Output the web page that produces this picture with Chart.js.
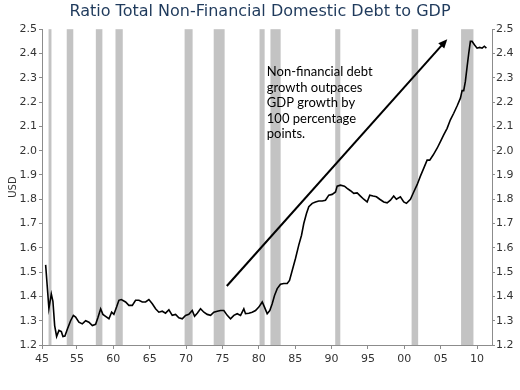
<!DOCTYPE html>
<html>
<head>
<meta charset="utf-8">
<script src="https://cdn.jsdelivr.net/npm/chart.js@4.4.1/dist/chart.umd.min.js"></script>
<style>
  html, body { margin: 0; padding: 0; background: #fff; }
  #wrap { width: 520px; height: 390px; }
</style>
</head>
<body>
<div id="wrap"><canvas id="debtChart" width="520" height="390"></canvas></div>
<script>
// Quarter positions (decimal years) and ratio values
var years = [1950.70, 1951.15, 1951.48, 1951.70, 1951.94, 1952.21, 1952.53, 1952.86, 1953.08, 1953.35,
  1953.68, 1954.13, 1954.51, 1954.82, 1955.27, 1955.74, 1956.20, 1956.65, 1957.12, 1957.57,
  1957.88, 1958.26, 1958.57, 1958.94, 1959.40, 1959.77, 1960.08, 1960.45, 1960.77, 1961.10,
  1961.69, 1962.14, 1962.61, 1963.06, 1963.52, 1963.98, 1964.44, 1964.89, 1965.36, 1965.81,
  1966.26, 1966.73, 1967.18, 1967.64, 1968.10, 1968.56, 1969.01, 1969.48, 1969.93, 1970.38,
  1970.85, 1971.17, 1971.54, 1971.99, 1972.45, 1972.91, 1973.37, 1973.82, 1974.29, 1974.74,
  1975.19, 1975.66, 1976.11, 1976.57, 1977.03, 1977.49, 1977.94, 1978.17, 1978.63, 1979.09,
  1979.55, 1980.00, 1980.47, 1980.78, 1981.15, 1981.51, 1981.84, 1982.16, 1982.53, 1982.98,
  1983.43, 1983.90, 1984.22, 1984.59, 1985.04, 1985.49, 1985.87, 1986.18, 1986.55, 1986.87,
  1987.34, 1987.79, 1988.24, 1988.71, 1989.16, 1989.62, 1990.08, 1990.54, 1990.77, 1991.22,
  1991.77, 1992.14, 1992.60, 1993.05, 1993.52, 1993.97, 1994.42, 1994.89, 1995.25, 1995.71,
  1996.17, 1996.62, 1997.17, 1997.64, 1998.09, 1998.54, 1998.91, 1999.46, 1999.92, 2000.29,
  2000.84, 2001.29, 2001.76, 2002.21, 2002.66, 2003.13, 2003.49, 2003.96, 2004.51, 2004.96,
  2005.41, 2005.88, 2006.33, 2006.79, 2007.25, 2007.71, 2007.94, 2008.16, 2008.39, 2008.63,
  2008.85, 2009.08, 2009.31, 2009.63, 2010.00, 2010.36, 2010.69, 2011.00, 2011.28];

var debtRatio = [1.53, 1.35, 1.41, 1.38, 1.28, 1.235, 1.26, 1.255, 1.235, 1.237,
  1.265, 1.30, 1.322, 1.315, 1.294, 1.287, 1.30, 1.294, 1.28, 1.285,
  1.312, 1.349, 1.326, 1.318, 1.308, 1.335, 1.326, 1.356, 1.384, 1.387,
  1.377, 1.363, 1.363, 1.384, 1.384, 1.377, 1.377, 1.387, 1.37, 1.349,
  1.335, 1.339, 1.331, 1.345, 1.322, 1.326, 1.312, 1.308, 1.322, 1.326,
  1.342, 1.318, 1.331, 1.349, 1.335, 1.326, 1.322, 1.335, 1.339, 1.342,
  1.342, 1.322, 1.308, 1.322, 1.329, 1.322, 1.349, 1.329, 1.331, 1.335,
  1.342, 1.356, 1.377, 1.356, 1.329, 1.342, 1.37, 1.404, 1.432, 1.45,
  1.453, 1.453, 1.466, 1.507, 1.556, 1.611, 1.652, 1.70, 1.741, 1.769,
  1.783, 1.789, 1.793, 1.793, 1.796, 1.817, 1.82, 1.83, 1.854, 1.858,
  1.854, 1.845, 1.835, 1.824, 1.826, 1.813, 1.80, 1.789, 1.817, 1.813,
  1.81, 1.80, 1.789, 1.785, 1.796, 1.813, 1.80, 1.81, 1.789, 1.783,
  1.80, 1.83, 1.86, 1.895, 1.927, 1.961, 1.961, 1.982, 2.01, 2.037,
  2.065, 2.092, 2.127, 2.154, 2.184, 2.216, 2.247, 2.247, 2.285, 2.346,
  2.40, 2.45, 2.45, 2.436, 2.422, 2.425, 2.422, 2.43, 2.422];

// Recession shading, start and end in decimal years
var recessionStart = [1951.1, 1953.6, 1957.6, 1960.3, 1969.8, 1973.8, 1980.1, 1981.6, 1990.5, 2001.0, 2007.8];
var recessionEnd   = [1951.5, 1954.5, 1958.5, 1961.3, 1970.9, 1975.3, 1980.8, 1983.0, 1991.2, 2001.9, 2009.5];

// Axis ticks (the first label reads "45" in the original)
var xTickYears  = [1950.2, 1955, 1960, 1965, 1970, 1975, 1980, 1985, 1990, 1995, 2000, 2005, 2010];
var xTickLabels = ["45", "55", "60", "65", "70", "75", "80", "85", "90", "95", "00", "05", "10"];
var yMin = 1.2, yMax = 2.5, yStep = 0.1;

// Arrow and note, in data units
var arrowFrom = [1975.6, 1.443];
var arrowTo   = [2005.9, 2.459];
var noteAt    = [1981.1, 2.35];
var noteLines = ["Non-financial debt", "growth outpaces", "GDP growth by", "100 percentage", "points."];

var axisGray = "#8c8c8c";
var sansFamily = "'DejaVu Sans', Verdana, sans-serif";
var tickFont = { family: sansFamily, size: 11 };

var points = years.map(function (y, i) { return { x: y, y: debtRatio[i] }; });

// grey bars behind the line
var recessionPlugin = {
  id: "recessions",
  beforeDatasetsDraw: function (chart) {
    var ctx = chart.ctx, area = chart.chartArea, xs = chart.scales.x;
    ctx.save();
    ctx.fillStyle = "#c3c3c3";
    for (var i = 0; i < recessionStart.length; i++) {
      var x0 = xs.getPixelForValue(recessionStart[i]);
      var x1 = xs.getPixelForValue(recessionEnd[i]);
      ctx.fillRect(x0, area.top, x1 - x0, area.bottom - area.top);
    }
    ctx.restore();
  }
};

// arrow + text box
var notePlugin = {
  id: "note",
  afterDatasetsDraw: function (chart) {
    var ctx = chart.ctx, xs = chart.scales.x, ys = chart.scales.y;
    var ax = xs.getPixelForValue(arrowFrom[0]), ay = ys.getPixelForValue(arrowFrom[1]);
    var bx = xs.getPixelForValue(arrowTo[0]), by = ys.getPixelForValue(arrowTo[1]);
    var ang = Math.atan2(by - ay, bx - ax);
    ctx.save();
    ctx.strokeStyle = "#000";
    ctx.fillStyle = "#000";
    ctx.lineWidth = 2;
    ctx.beginPath();
    ctx.moveTo(ax, ay);
    ctx.lineTo(bx - 6 * Math.cos(ang), by - 6 * Math.sin(ang));
    ctx.stroke();
    ctx.beginPath();
    ctx.moveTo(bx, by);
    ctx.lineTo(bx - 9 * Math.cos(ang) + 4 * Math.sin(ang), by - 9 * Math.sin(ang) - 4 * Math.cos(ang));
    ctx.lineTo(bx - 9 * Math.cos(ang) - 4 * Math.sin(ang), by - 9 * Math.sin(ang) + 4 * Math.cos(ang));
    ctx.closePath();
    ctx.fill();

    ctx.font = "13px Lato";
    ctx.textBaseline = "top";
    ctx.textAlign = "left";
    var tx = xs.getPixelForValue(noteAt[0]), ty = ys.getPixelForValue(noteAt[1]);
    for (var j = 0; j < noteLines.length; j++) {
      ctx.fillText(noteLines[j], tx, ty + j * 15.5);
    }
    ctx.restore();
  }
};

var ctx = document.getElementById("debtChart").getContext("2d");
new Chart(ctx, {
  type: "line",
  data: {
    datasets: [{
      data: points,
      borderColor: "#000",
      borderWidth: 1.6,
      pointRadius: 0,
      tension: 0,
      fill: false
    }]
  },
  options: {
    responsive: false,
    animation: false,
    events: [],
    layout: { padding: 0 },
    plugins: {
      legend: { display: false },
      tooltip: { enabled: false },
      title: {
        display: true,
        text: "Ratio Total Non-Financial Domestic Debt to GDP",
        color: "#1f3a5c",
        font: { family: sansFamily, size: 16, weight: "normal" },
        padding: { top: 2, bottom: 8 }
      }
    },
    scales: {
      x: {
        type: "linear",
        min: 1950.2,
        max: 2012.05,
        afterBuildTicks: function (s) {
          s.ticks = xTickYears.map(function (v) { return { value: v }; });
        },
        afterFit: function (s) { s.height = 45; },
        ticks: {
          autoSkip: false,
          maxRotation: 0,
          padding: 4,
          color: "#333",
          font: tickFont,
          callback: function (v, i) { return xTickLabels[i]; }
        },
        grid: { drawOnChartArea: false, tickLength: 4, color: axisGray },
        border: { color: axisGray }
      },
      y: {
        position: "left",
        min: yMin,
        max: yMax,
        afterFit: function (s) { s.width = 42; },
        ticks: {
          stepSize: yStep,
          padding: 2,
          color: "#333",
          font: tickFont,
          callback: function (v) { return v.toFixed(1); }
        },
        title: {
          display: true,
          text: "USD",
          color: "#333",
          font: { family: sansFamily, size: 10 },
          padding: { top: 7, bottom: 0 }
        },
        grid: { drawOnChartArea: false, tickLength: 3, color: axisGray },
        border: { color: axisGray }
      },
      y2: {
        position: "right",
        min: yMin,
        max: yMax,
        afterFit: function (s) { s.width = 28; },
        ticks: {
          stepSize: yStep,
          padding: 1,
          color: "#333",
          font: tickFont,
          callback: function (v) { return v.toFixed(1); }
        },
        grid: { drawOnChartArea: false, tickLength: 3, color: axisGray },
        border: { color: axisGray }
      }
    }
  },
  plugins: [recessionPlugin, notePlugin]
});
</script>
</body>
</html>
